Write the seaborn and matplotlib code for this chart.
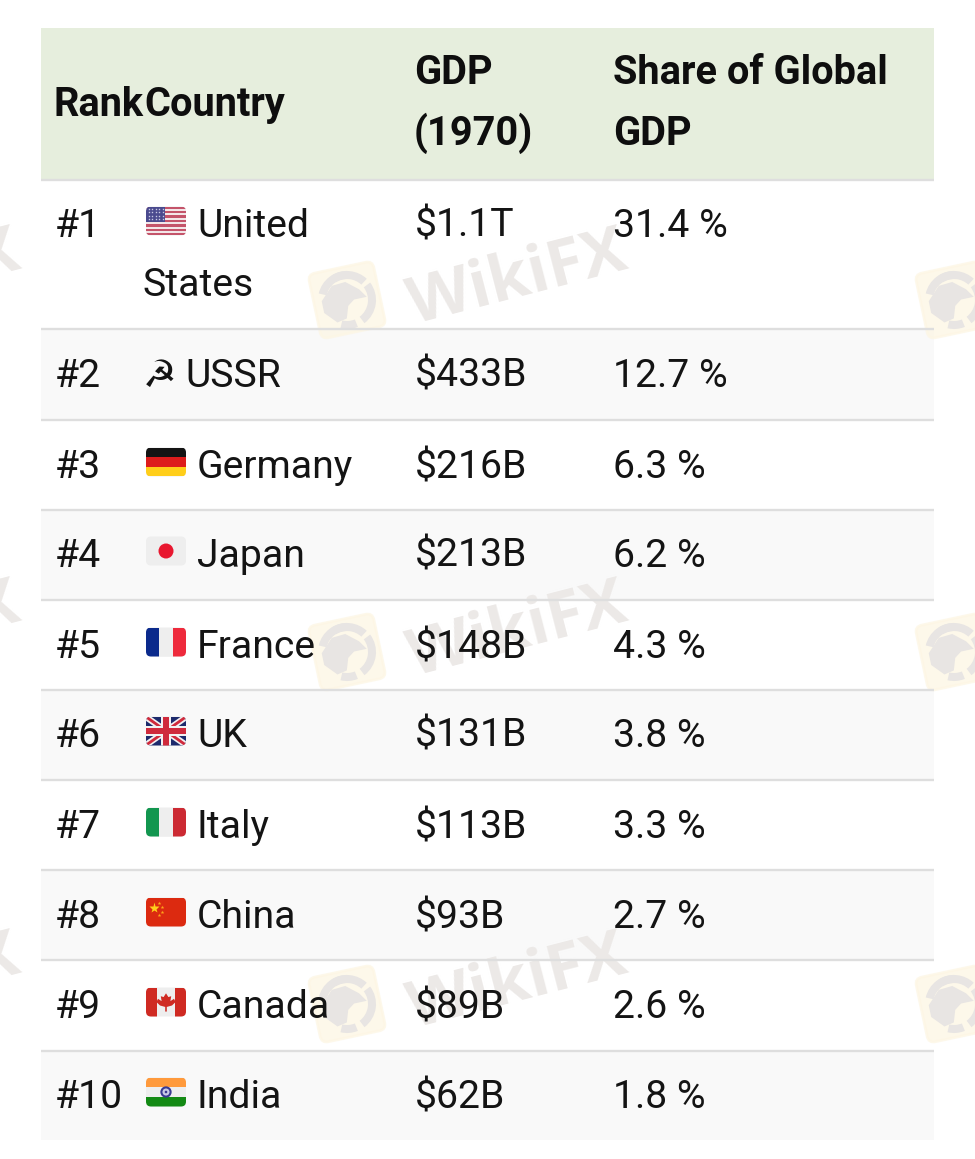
"""
GDP 1970 top 10 table, redrawn with seaborn (heatmap for the row bands)
"""

import numpy as np
import matplotlib.pyplot as plt
import matplotlib.patches as mpatches
from matplotlib.colors import ListedColormap
from matplotlib.transforms import Affine2D
import seaborn as sns

# data
ranks = ['#1', '#2', '#3', '#4', '#5', '#6', '#7', '#8', '#9', '#10']
countries = ['United', 'USSR', 'Germany', 'Japan', 'France', 'UK', 'Italy', 'China', 'Canada', 'India']
gdp_labels = ['$1.1T', '$433B', '$216B', '$213B', '$148B', '$131B', '$113B', '$93B', '$89B', '$62B']
share_labels = ['31.4 %', '12.7 %', '6.3 %', '6.2 %', '4.3 %', '3.8 %', '3.3 %', '2.7 %', '2.6 %', '1.8 %']
flag_codes = ['us', 'su', 'de', 'jp', 'fr', 'uk', 'it', 'cn', 'ca', 'in']

row_heights = [151, 149, 91, 90, 90, 90, 90, 90, 90, 91, 90]
row_kinds = [0, 1, 2, 1, 2, 1, 2, 1, 2, 1, 2]
band_colors = ['#e6eedd', '#ffffff', '#f9f9f9']

W, H = 975, 1159
TX0, TX1, TY0 = 41, 934, 28
TEXT = '#141414'
FS = 28.2

sns.set_theme(style='white')
plt.rcParams['font.family'] = ['Roboto', 'DejaVu Sans']

fig = plt.figure(figsize=(W / 100, H / 100), dpi=100, facecolor='white')

# table background: one heatmap cell per pixel row
table_h = sum(row_heights)
ax = fig.add_axes([TX0 / W, 1 - (TY0 + table_h) / H, (TX1 - TX0) / W, table_h / H])
bands = np.repeat(row_kinds, row_heights).reshape(-1, 1)
sns.heatmap(bands, ax=ax, cmap=ListedColormap(band_colors), vmin=-0.5, vmax=2.5,
            cbar=False, xticklabels=False, yticklabels=False)

# everything else sits in pixel coords on top
ov = fig.add_axes([0, 0, 1, 1], facecolor='none')
ov.set_xlim(0, W)
ov.set_ylim(H, 0)
ov.axis('off')


def watermark_logo(cx, cy):
    rot = Affine2D().rotate_deg_around(cx, cy, -12) + ov.transData
    ov.add_patch(mpatches.FancyBboxPatch((cx - 33, cy - 33), 66, 66, boxstyle='round,pad=0,rounding_size=7',
                                         fc='#fdf6e4', ec='#fdf6e4', lw=2, alpha=0.75, transform=rot, zorder=2))
    gray = '#e8e5e3'
    # ring around the eagle
    for a0, a1 in [(-110, -35), (-25, 65), (80, 115), (205, 285)]:
        ov.add_patch(mpatches.Wedge((cx, cy), 29, a0, a1, width=8, fc=gray, ec='none',
                                    transform=rot, zorder=3))
    head = [(cx - 25, cy - 4), (cx - 12, cy - 17), (cx + 2, cy - 18), (cx + 14, cy - 8), (cx + 20, cy + 1),
            (cx + 7, cy + 1), (cx, cy + 6), (cx - 4, cy + 18), (cx - 14, cy + 20), (cx - 25, cy + 8)]
    ov.add_patch(mpatches.Polygon(head, closed=True, fc=gray, ec='none', transform=rot, zorder=3))


for dy in [0, 352, 704]:
    for dx in [0, 607]:
        watermark_logo(347 + dx, 300 + dy)
    for dx in [-607, 0]:
        ov.text(518 + dx, 280 + dy, 'WikiFX', family='Open Sans', fontweight='bold', fontsize=47,
                color='#ece9e7', rotation=14.5, rotation_mode='anchor', ha='center', va='center', zorder=2)

# row rules
edges = np.cumsum(row_heights) + TY0
ov.hlines(edges[:-1] + 0.5, TX0, TX1, color='#dedede', lw=1.7, zorder=4)


def draw_flag(code, x, y, w=40, h=29):
    box = mpatches.FancyBboxPatch((x, y), w, h, boxstyle='round,pad=0,rounding_size=5',
                                  fc='#eeeeee', ec='none', zorder=5)
    ov.add_patch(box)

    def rect(fx, fy, fw, fh, color, z=6):
        r = mpatches.Rectangle((x + fx * w, y + fy * h), fw * w, fh * h, fc=color, ec='none', zorder=z)
        ov.add_patch(r)
        r.set_clip_path(box)

    def poly(pts, color, z=6):
        p = mpatches.Polygon([(x + a * w, y + b * h) for a, b in pts], closed=True, fc=color, ec='none', zorder=z)
        ov.add_patch(p)
        p.set_clip_path(box)

    def vstripes(c1, c2, c3):
        for i, c in enumerate([c1, c2, c3]):
            rect(i / 3, 0, 1 / 3, 1, c)

    def hstripes(c1, c2, c3):
        for i, c in enumerate([c1, c2, c3]):
            rect(0, i / 3, 1, 1 / 3, c)

    if code == 'us':
        for i in range(13):
            rect(0, i / 13, 1, 1 / 13, '#c4546a' if i % 2 == 0 else '#f3e6e8')
        rect(0, 0, 0.48, 7 / 13, '#4a4a8e')
        for i in range(5):
            for j in range(4):
                ov.plot(x + 2.5 + i * 3.6, y + 2 + j * 3.6, 's', ms=1, color='#c8c8e4', mec='none', zorder=7)
    elif code == 'de':
        hstripes('#141414', '#dd1c1c', '#ffce1a')
    elif code == 'jp':
        ov.add_patch(mpatches.Circle((x + w / 2, y + h / 2), 7.5, fc='#e8172f', ec='none', zorder=6))
    elif code == 'fr':
        vstripes('#0b2a8c', '#eeeeee', '#ee2a3c')
    elif code == 'it':
        vstripes('#12964f', '#eeeeee', '#cc2a33')
    elif code == 'cn':
        rect(0, 0, 1, 1, '#dc2a10')
        ov.plot(x + 7.5, y + 10.5, '*', ms=8, color='#ffcf1a', mec='none', zorder=7)
        for a, b in [(13, 5), (16, 9), (16, 14), (13, 17)]:
            ov.plot(x + a, y + b, '*', ms=2.8, color='#ffa51a', mec='none', zorder=7)
    elif code == 'ca':
        rect(0, 0, 0.27, 1, '#cf2a22')
        rect(0.73, 0, 0.27, 1, '#cf2a22')
        leaf = [(0.5, 0.2), (0.56, 0.33), (0.63, 0.3), (0.61, 0.47), (0.7, 0.39), (0.74, 0.5), (0.65, 0.62),
                (0.52, 0.67), (0.52, 0.83), (0.48, 0.83), (0.48, 0.67), (0.35, 0.62), (0.26, 0.5), (0.3, 0.39),
                (0.39, 0.47), (0.37, 0.3), (0.44, 0.33)]
        poly(leaf, '#cf2a22')
    elif code == 'in':
        hstripes('#ff9a3c', '#eeeeee', '#138a14')
        ov.add_patch(mpatches.Circle((x + w / 2, y + h / 2), 4.6, fc='#c9c9e6', ec='#3a3a92', lw=1.5, zorder=7))
        ov.add_patch(mpatches.Circle((x + w / 2, y + h / 2), 1.3, fc='#3a3a92', ec='none', zorder=8))
    elif code == 'uk':
        rect(0, 0, 1, 1, '#1d2a6c')
        for pts in ([(0, 0), (0.12, 0), (1, 0.85), (1, 1), (0.88, 1), (0, 0.15)],
                    [(1, 0), (0.88, 0), (0, 0.85), (0, 1), (0.12, 1), (1, 0.15)]):
            poly(pts, '#f2f2f2', 6)
        for pts in ([(0, 0), (0.05, 0), (1, 0.93), (1, 1), (0.95, 1), (0, 0.07)],
                    [(1, 0), (0.95, 0), (0, 0.93), (0, 1), (0.05, 1), (1, 0.07)]):
            poly(pts, '#cf2a3c', 7)
        rect(0.37, 0, 0.26, 1, '#f2f2f2', 8)
        rect(0, 0.33, 1, 0.34, '#f2f2f2', 8)
        rect(0.43, 0, 0.14, 1, '#cf2a3c', 9)
        rect(0, 0.4, 1, 0.2, '#cf2a3c', 9)


# header
header_kw = dict(fontsize=28.6, fontweight='bold', color='#0e0e0e', va='baseline', zorder=10)
ov.text(54, 116, 'Rank', **header_kw)
ov.text(144, 116, 'Country', **header_kw)
ov.text(414, 84, 'GDP', **header_kw)
ov.text(414, 145, '(1970)', **header_kw)
ov.text(613, 84, 'Share of Global', **header_kw)
ov.text(613, 145, 'GDP', **header_kw)

# body
baselines = [237, 387, 478, 567, 658, 747, 838, 928, 1018, 1108]
body_kw = dict(fontsize=FS, color=TEXT, va='baseline', zorder=10)
for i in range(len(ranks)):
    b = baselines[i]
    ov.text(54.5, b, ranks[i], **body_kw)
    if flag_codes[i] == 'su':
        ov.text(143, b, '\u262d', family='DejaVu Sans', fontsize=27, color='#141414', va='baseline', zorder=10)
        ov.text(185, b, countries[i], **body_kw)
    else:
        draw_flag(flag_codes[i], 146, b - 30.5)
        ov.text(197, b, countries[i], **body_kw)
    ov.text(415, b, gdp_labels[i], **body_kw)
    ov.text(613, b, share_labels[i], **body_kw)
ov.text(143, 296, 'States', **body_kw)

fig.savefig('out.png', dpi=100, facecolor='white')
